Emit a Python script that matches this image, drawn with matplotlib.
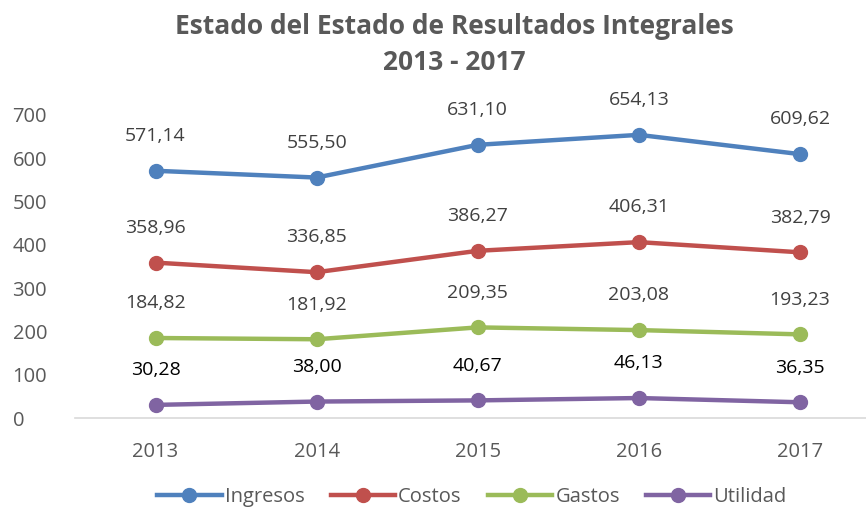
import matplotlib.pyplot as plt

years = ["2013", "2014", "2015", "2016", "2017"]
ingresos = [571.14, 555.50, 631.10, 654.13, 609.62]
costos = [358.96, 336.85, 386.27, 406.31, 382.79]
gastos = [184.82, 181.92, 209.35, 203.08, 193.23]
utilidad = [30.28, 38.00, 40.67, 46.13, 36.35]
series_names = ["Ingresos", "Costos", "Gastos", "Utilidad"]
colors = ["#4F81BD", "#C0504D", "#9BBB59", "#8064A2"]
label_colors = ["#404040", "#404040", "#404040", "#000000"]
yticks = [0, 100, 200, 300, 400, 500, 600, 700]

plt.rcParams["font.family"] = ["Open Sans", "DejaVu Sans"]

fig = plt.figure(figsize=(8.66, 5.12), dpi=100)
ax = fig.add_axes([75 / 866, (512 - 418) / 512, (866 - 75) / 866, 303 / 512])

x = list(range(len(years)))
for name, vals, col, lcol in zip(series_names, [ingresos, costos, gastos, utilidad], colors, label_colors):
    ax.plot(x, vals, color=col, lw=3.2, marker="o", ms=10, label=name, solid_joinstyle="round")
    for xi, v in zip(x, vals):
        ax.annotate(f"{v:.2f}".replace(".", ","), (xi, v), xytext=(0, 25), textcoords="offset points",
                    ha="center", va="center", fontsize=14, color=lcol, annotation_clip=False)

ax.set_xlim(-0.5, 4.41)
ax.set_ylim(0, 700)
ax.set_xticks(x)
ax.set_xticklabels(years)
ax.set_yticks(yticks)
ax.tick_params(axis="both", length=0, labelsize=14.5, colors="#595959")
ax.tick_params(axis="x", pad=17)
ax.tick_params(axis="y", pad=45)
for t in ax.get_yticklabels():
    t.set_horizontalalignment("left")
for s in ["top", "right", "left"]:
    ax.spines[s].set_visible(False)
ax.spines["bottom"].set_color("#D9D9D9")
ax.spines["bottom"].set_linewidth(1.2)

fig.text(0.525, 0.975, "Estado del Estado de Resultados Integrales\n2013 - 2017", ha="center", va="top",
         fontsize=19, fontweight="bold", color="#595959", linespacing=1.45)

fig.legend(loc="center", bbox_to_anchor=(0.545, 0.03), ncol=4, frameon=False, fontsize=14.5,
           handlelength=3.2, columnspacing=1.3, handletextpad=0.15, labelcolor="#595959",
           borderpad=0.1)

fig.savefig("out.png", dpi=100)
